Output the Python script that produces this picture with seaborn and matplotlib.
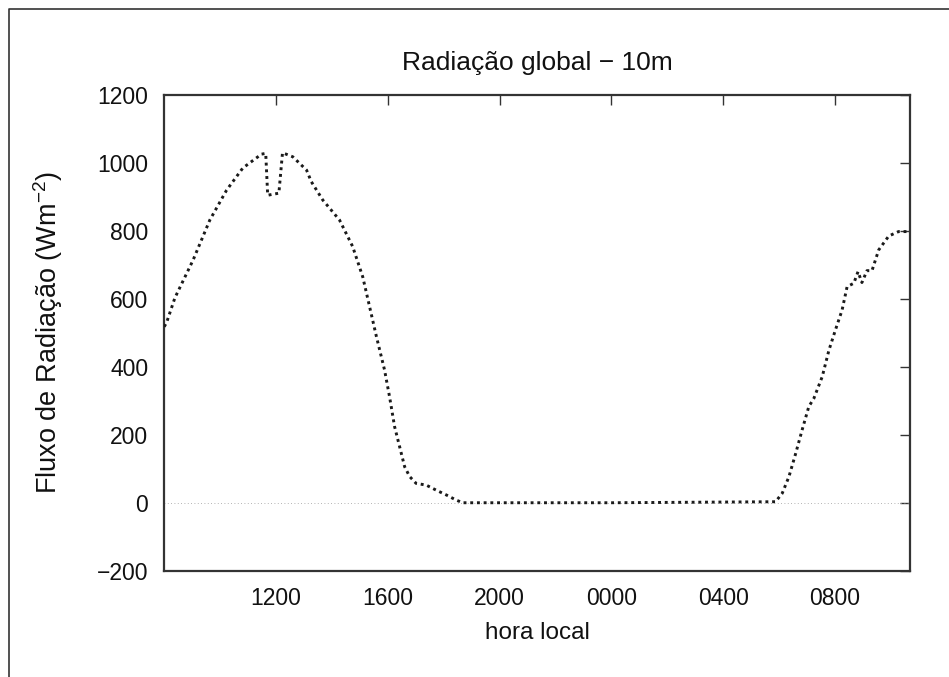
import matplotlib
matplotlib.use("Agg")
import matplotlib.pyplot as plt
from matplotlib.lines import Line2D
import seaborn as sns
import pandas as pd

# Hora local (horas decimais desde 00h do primeiro dia) e radiação global a 10 m
hours = [8.00, 8.09, 8.38, 9.03, 9.63, 10.23, 10.81, 11.48, 11.63, 11.70, 12.10,
         12.23, 12.60, 13.09, 13.26, 13.67, 14.27, 14.74, 15.10, 15.29, 15.59,
         15.88, 16.06, 16.24, 16.42, 16.60, 16.78, 17.01, 17.37, 17.73, 18.09,
         18.44, 18.68, 24.00, 29.87, 30.11, 30.35, 30.59, 30.82, 31.06, 31.24,
         31.54, 31.78, 32.01, 32.25, 32.43, 32.67, 32.82, 32.96, 33.14, 33.32,
         33.56, 33.92, 34.27, 34.57, 34.68]
radiacao = [518, 532, 603, 714, 832, 920, 985, 1026, 1028, 905, 911,
            1030, 1018, 979, 945, 891, 832, 754, 665, 597, 489,
            391, 312, 224, 165, 106, 77, 57, 52, 37, 23,
            8, 0, 0, 3, 28, 77, 145, 214, 283, 307,
            371, 449, 508, 567, 636, 646, 680, 648, 683, 683,
            744, 785, 798, 798, 800]

xticks = [12, 16, 20, 24, 28, 32]
xticklabels = ["1200", "1600", "2000", "0000", "0400", "0800"]
yticks = [-200, 0, 200, 400, 600, 800, 1000, 1200]

df = pd.DataFrame({"hora": hours, "radiacao": radiacao})

sns.set_theme(style="white")
plt.rcParams["font.family"] = ["Liberation Sans", "DejaVu Sans"]
plt.rcParams["mathtext.default"] = "regular"

fig = plt.figure(figsize=(9.49, 6.77), dpi=100)
ax = fig.add_axes([0.1731, 0.157, 0.9589 - 0.1731, 0.8597 - 0.157])

# linha de referência em zero
ax.axhline(0, color="#9a9a9a", lw=0.6, ls=(0, (1, 3)), zorder=1)

sns.lineplot(data=df, x="hora", y="radiacao", ax=ax, color="#1a1a1a",
             lw=2.1, ls=(0, (1, 1.3)), zorder=3)

ax.set_xlim(8.0, 34.68)
ax.set_ylim(-200, 1200)
ax.set_xticks(xticks)
ax.set_xticklabels(xticklabels)
ax.set_yticks(yticks)

ax.tick_params(direction="in", length=7, width=1.0, color="#333333",
               top=True, right=True, labelsize=16.5, labelcolor="#111111")
ax.tick_params(axis="x", pad=11.5)
ax.tick_params(axis="y", pad=11.5)

for s in ax.spines.values():
    s.set_visible(True)
    s.set_color("#333333")
    s.set_linewidth(1.6)

ax.set_title("Radiação global − 10m", fontsize=19, pad=18, color="#111111")
ax.set_xlabel("hora local", fontsize=17.5, labelpad=9, color="#111111")
ax.set_ylabel("Fluxo de Radiação (Wm$^{-2}$)", fontsize=19.5, labelpad=23,
              color="#111111")

# moldura da página (lados superior e esquerdo)
ytop = 1 - 9.3 / 677
xleft = 8.5 / 949
fig.add_artist(Line2D([xleft, xleft, 1.0], [0.0, ytop, ytop],
                      transform=fig.transFigure, color="#333333", lw=1.2))

fig.savefig("out.png", dpi=100, facecolor="white")
